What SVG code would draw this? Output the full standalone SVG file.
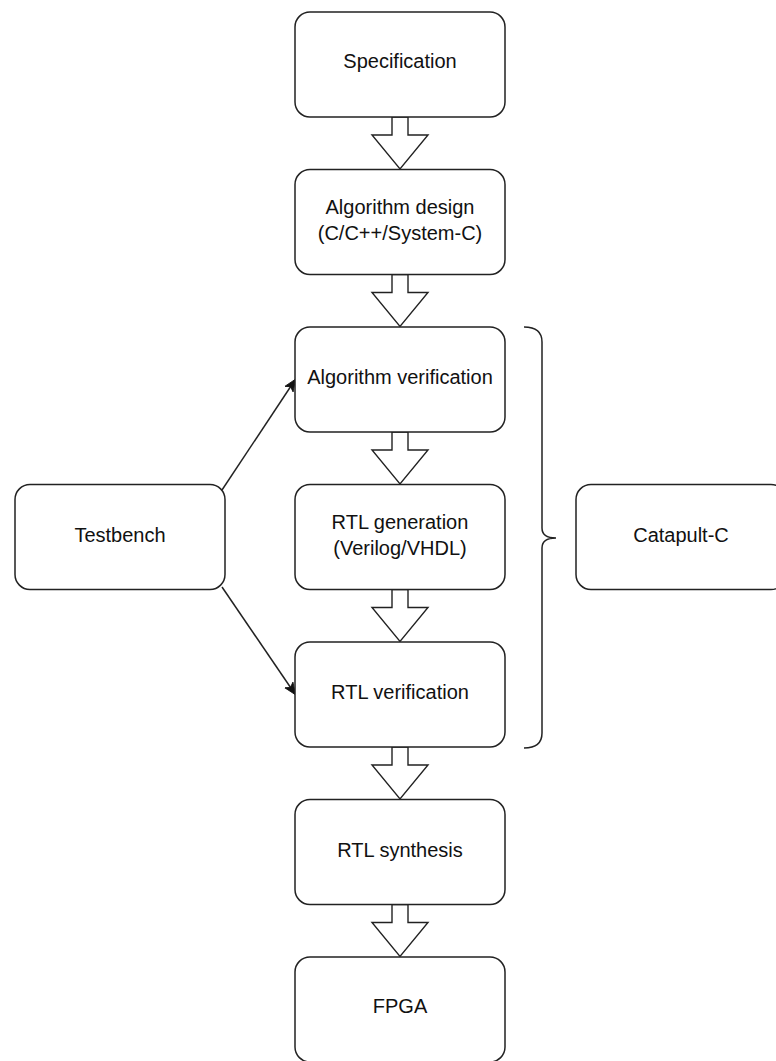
<svg xmlns="http://www.w3.org/2000/svg" width="776" height="1061" viewBox="0 0 776 1061">
  <style>
    .box { fill: #ffffff; stroke: #222222; stroke-width: 1.5; }
    .label { font-family: "Liberation Sans", Arial, sans-serif; font-size: 20px; fill: #111111; text-anchor: middle; }
    .flow { fill: #ffffff; stroke: #222222; stroke-width: 1.4; stroke-linejoin: miter; }
    .link { fill: none; stroke: #222222; stroke-width: 1.5; }
    .brace { fill: none; stroke: #222222; stroke-width: 1.5; }
  </style>
  <defs>
    <marker id="arrowhead" markerWidth="12" markerHeight="12" viewBox="0 0 12 12" refX="11" refY="6" orient="auto" markerUnits="userSpaceOnUse">
      <path d="M0,1 L12,6 L0,11 L3,6 Z" fill="#111111" stroke="#111111" stroke-width="0.8"/>
    </marker>
    <!-- hollow downward block arrow, origin at top centre -->
    <path id="blockArrow" d="M-8,0 L8,0 L8,18 L28,18 L0,52 L-28,18 L-8,18 Z"/>
  </defs>

  <rect width="776" height="1061" fill="#ffffff"/>

  <!-- connectors -->
  <g id="connectors">
    <use href="#blockArrow" class="flow" x="400" y="117"/>
    <use href="#blockArrow" class="flow" x="400" y="274.5"/>
    <use href="#blockArrow" class="flow" x="400" y="432"/>
    <use href="#blockArrow" class="flow" x="400" y="589.5"/>
    <use href="#blockArrow" class="flow" x="400" y="747"/>
    <use href="#blockArrow" class="flow" x="400" y="904.5"/>
    <line class="link" x1="222" y1="490" x2="295" y2="380" marker-end="url(#arrowhead)"/>
    <line class="link" x1="222" y1="587" x2="295" y2="694" marker-end="url(#arrowhead)"/>
    <path class="brace" d="M524,327 Q542,327 542,342 L542,528 Q542,538 556,538 Q542,538 542,548 L542,733 Q542,748 524,748"/>
  </g>

  <g id="specification">
    <rect class="box" x="295" y="12" width="210" height="105" rx="15"/>
    <text class="label" x="400" y="68">Specification</text>
  </g>

  <g id="algorithm-design">
    <rect class="box" x="295" y="169.5" width="210" height="105" rx="15"/>
    <text class="label" x="400" y="214">Algorithm design</text>
    <text class="label" x="400" y="240">(C/C++/System-C)</text>
  </g>

  <g id="algorithm-verification">
    <rect class="box" x="295" y="327" width="210" height="105" rx="15"/>
    <text class="label" x="400" y="384">Algorithm verification</text>
  </g>

  <g id="rtl-generation">
    <rect class="box" x="295" y="484.5" width="210" height="105" rx="15"/>
    <text class="label" x="400" y="529">RTL generation</text>
    <text class="label" x="400" y="555">(Verilog/VHDL)</text>
  </g>

  <g id="rtl-verification">
    <rect class="box" x="295" y="642" width="210" height="105" rx="15"/>
    <text class="label" x="400" y="699">RTL verification</text>
  </g>

  <g id="rtl-synthesis">
    <rect class="box" x="295" y="799.5" width="210" height="105" rx="15"/>
    <text class="label" x="400" y="856.5">RTL synthesis</text>
  </g>

  <g id="fpga">
    <rect class="box" x="295" y="957" width="210" height="105" rx="15"/>
    <text class="label" x="400" y="1013">FPGA</text>
  </g>

  <g id="testbench">
    <rect class="box" x="15" y="484.5" width="210" height="105" rx="15"/>
    <text class="label" x="120" y="541.5">Testbench</text>
  </g>

  <g id="catapult-c">
    <rect class="box" x="576" y="484.5" width="210" height="105" rx="15"/>
    <text class="label" x="681" y="541.5">Catapult-C</text>
  </g>
</svg>
